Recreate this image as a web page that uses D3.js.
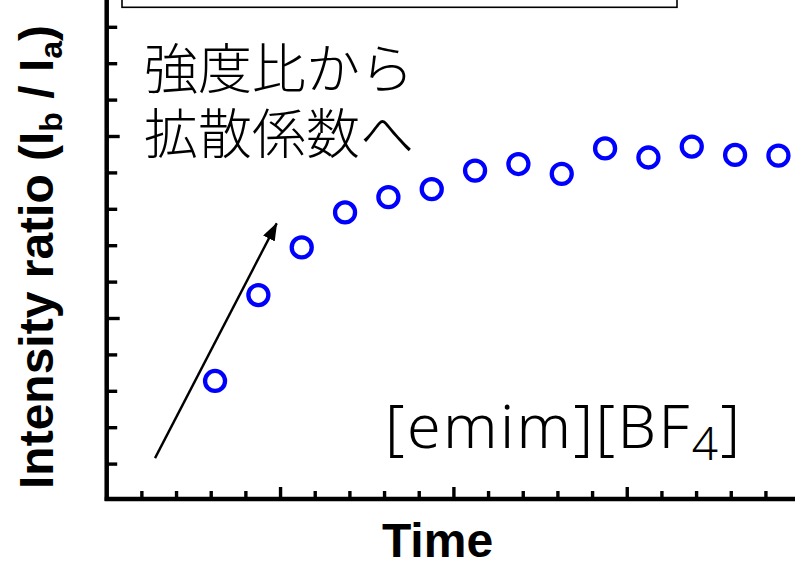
<!DOCTYPE html>
<html>
<head>
<meta charset="utf-8">
<script src="https://cdn.jsdelivr.net/npm/d3@7/dist/d3.min.js"></script>
<style>
  html, body { margin: 0; padding: 0; background: #ffffff; }
  svg { display: block; }
</style>
</head>
<body>
<svg id="chart" width="795" height="563"></svg>
<script>
// ---- data ----
const times = [2.5, 3.5, 4.5, 5.5, 6.5, 7.5, 8.5, 9.5, 10.5, 11.5, 12.5, 13.5, 14.5, 15.5];
const ratios = [0.327, 0.563, 0.694, 0.790, 0.832, 0.854, 0.905, 0.923, 0.896, 0.966, 0.941, 0.971, 0.948, 0.946];
const xTickValues = d3.range(1, 20).map(k => +(k * 0.8).toFixed(2));
const yTickValues = d3.range(1, 14).map(k => +(k * 0.1).toFixed(2));
const xMajorTicks = [4, 8, 12];
const yMajorTicks = [0.5, 1.0];
const xTitle = "Time";
const noteLines = ["強度比から", "拡散係数へ"];
const arrowFrom = [1.115, 0.115];
const arrowTo = [3.923, 0.760];

// ---- layout ----
const W = 795, H = 563;
const svg = d3.select("#chart");
const x = d3.scaleLinear().domain([0, 16]).range([106.7, 106.7 + 20 * 34.67]);
const y = d3.scaleLinear().domain([0, 1.3]).range([500, 500 - 1.3 * 364]);

const isMajor = (v, arr) => arr.some(m => Math.abs(m - v) < 1e-6);

// top box (partly outside the view)
svg.append("rect")
  .attr("x", 122).attr("y", -30)
  .attr("width", 677 - 122).attr("height", 37.3)
  .attr("fill", "none").attr("stroke", "#000").attr("stroke-width", 1.6);

// x axis ticks
const gx = svg.append("g").attr("transform", `translate(0,${y(0)})`);
gx.call(d3.axisBottom(x).tickValues(xTickValues).tickSize(0).tickFormat(""));
gx.select(".domain").remove();
gx.selectAll(".tick line")
  .attr("y2", d => isMajor(d, xMajorTicks) ? -13 : -9)
  .attr("stroke", "#000").attr("stroke-width", 3.4);

// y axis ticks
const gy = svg.append("g").attr("transform", `translate(${x(0)},0)`);
gy.call(d3.axisLeft(y).tickValues(yTickValues).tickSize(0).tickFormat(""));
gy.select(".domain").remove();
gy.selectAll(".tick line")
  .attr("x2", d => isMajor(d, yMajorTicks) ? 13 : 10.5)
  .attr("stroke", "#000").attr("stroke-width", 3.4);

// axis lines
svg.append("line")
  .attr("x1", x(0) - 2).attr("x2", W + 5)
  .attr("y1", y(0) - 1).attr("y2", y(0) - 1)
  .attr("stroke", "#000").attr("stroke-width", 4.5);
svg.append("line")
  .attr("x1", x(0)).attr("x2", x(0))
  .attr("y1", y(0) + 1).attr("y2", -5)
  .attr("stroke", "#000").attr("stroke-width", 4.5);

// arrow
const defs = svg.append("defs");
defs.append("marker")
  .attr("id", "arrowhead")
  .attr("viewBox", "0 0 18 13")
  .attr("refX", 17).attr("refY", 6.5)
  .attr("markerWidth", 18).attr("markerHeight", 13)
  .attr("markerUnits", "userSpaceOnUse")
  .attr("orient", "auto")
  .append("path").attr("d", "M0,0 L18,6.5 L0,13 Z").attr("fill", "#000");
svg.append("line")
  .attr("x1", x(arrowFrom[0])).attr("y1", y(arrowFrom[1]))
  .attr("x2", x(arrowTo[0])).attr("y2", y(arrowTo[1]))
  .attr("stroke", "#000").attr("stroke-width", 2.4)
  .attr("marker-end", "url(#arrowhead)");

// points
svg.append("g").selectAll("circle")
  .data(times.map((t, i) => ({ t, r: ratios[i] })))
  .join("circle")
  .attr("cx", d => x(d.t))
  .attr("cy", d => y(d.r))
  .attr("r", 10)
  .attr("fill", "none")
  .attr("stroke", "#0000ff")
  .attr("stroke-width", 4.3);

// Japanese note
const jp = svg.append("text")
  .attr("font-family", "'Noto Sans CJK JP', 'Noto Sans CJK SC', sans-serif")
  .attr("font-weight", 300)
  .attr("font-size", 54)
  .attr("fill", "#000");
noteLines.forEach((line, i) => {
  jp.append("tspan").attr("x", 144).attr("y", 89 + i * 64.5).text(line);
});

// [emim][BF4]
const chem = svg.append("text")
  .attr("x", 385).attr("y", 448)
  .attr("font-family", "'Noto Sans', 'Noto Sans CJK JP', sans-serif")
  .attr("font-weight", 300)
  .attr("font-size", 61)
  .attr("letter-spacing", 2.4)
  .attr("fill", "#000");
chem.append("tspan").text("[emim][BF");
chem.append("tspan").attr("font-size", 46).attr("dy", 12).text("4");
chem.append("tspan").attr("dy", -12).text("]");

// x title
svg.append("text")
  .attr("x", 437.5).attr("y", 556.5)
  .attr("text-anchor", "middle")
  .attr("font-family", "'Liberation Sans', Arial, sans-serif")
  .attr("font-weight", "bold")
  .attr("font-size", 48)
  .attr("fill", "#000")
  .text(xTitle);

// y title
const yt = svg.append("text")
  .attr("transform", "translate(53,489) rotate(-90)")
  .attr("font-family", "'Liberation Sans', Arial, sans-serif")
  .attr("font-weight", "bold")
  .attr("font-size", 48)
  .attr("fill", "#000");
yt.append("tspan").text("Intensity ratio (I");
yt.append("tspan").attr("font-size", 32).attr("dy", 9).text("b");
yt.append("tspan").attr("dy", -9).text(" / I");
yt.append("tspan").attr("font-size", 32).attr("dy", 9).text("a");
yt.append("tspan").attr("dy", -9).text(")");
</script>
</body>
</html>
